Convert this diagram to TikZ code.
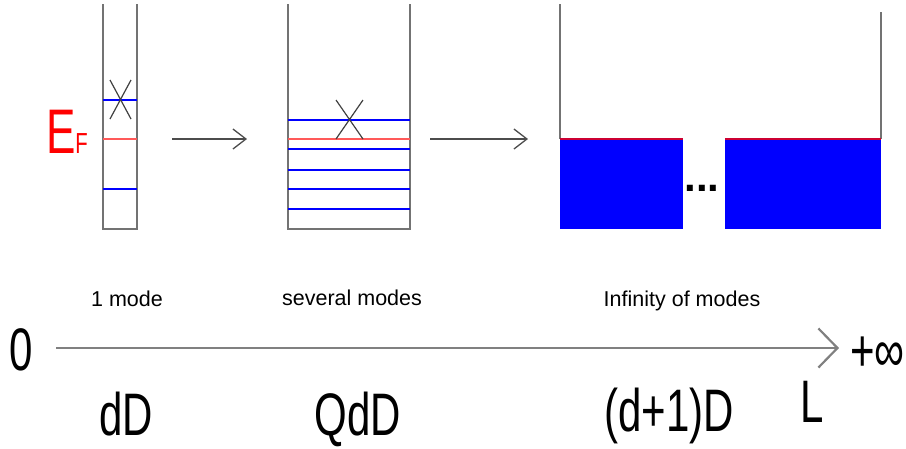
\documentclass[tikz,border=0pt]{standalone}
\usepackage{fontspec}
\setmainfont{Liberation Sans}
\newfontfamily\narrowfont[FakeStretch=0.7]{Liberation Sans}
\usetikzlibrary{positioning,arrows.meta}

\begin{document}
\begin{tikzpicture}[
    x=1pt, y=-1pt,
    every node/.style={inner sep=0pt, outer sep=0pt},
    wall/.style={draw=black!55, line width=1.6pt},
    level/.style={draw=blue, line width=1.5pt},
    fermi/.style={draw=red!65, line width=1.5pt},
    cross/.style={draw=black!75, line width=1.2pt},
    sea/.style={fill=blue},
    arrow/.style={-{Straight Barb[length=13pt, width=20pt]}, draw=black!70, line width=1.3pt},
    axis/.style={-{Straight Barb[length=19pt, width=39pt]}, draw=black!50, line width=2.2pt},
    biglabel/.style={font=\narrowfont\fontsize{60}{60}\selectfont, anchor=base},
    modelabel/.style={font=\fontsize{21.5}{22}\selectfont, anchor=base},
]
\useasboundingbox (0,0) rectangle (906,448);

% Fermi level label
\node[anchor=base west, text=red, font=\narrowfont\fontsize{63}{63}\selectfont] (ef) at (46,153)
    {E{\fontsize{29}{29}\selectfont F}};

% Box 1: one mode
\draw[wall] (103,4) -- (103,229) -- (137,229) -- (137,4);
\draw[level] (103,100) -- (137,100);
\draw[level] (103,189) -- (137,189);
\draw[fermi] (103,139) -- (137,139);
\draw[cross] (110,80) -- (131,119) (131,80) -- (110,119);

% Box 2: several modes
\draw[wall] (288,4) -- (288,229) -- (410,229) -- (410,4);
\foreach \y in {120,149,170,189,209}
    \draw[level] (288,\y) -- (410,\y);
\draw[fermi] (288,139) -- (410,139);
\draw[cross] (336,100) -- (363,139) (363,100) -- (336,139);

% Box 3: infinity of modes
\draw[wall] (560,4) -- (560,139);
\draw[wall] (881,12) -- (881,139);
\fill[sea] (560,139) rectangle (683,229);
\fill[sea] (725,139) rectangle (881,229);
\draw[fermi, draw=red!80!blue] (560,139) -- (683,139);
\draw[fermi, draw=red!80!blue] (725,139) -- (881,139);
\node[font=\fontsize{42}{42}\selectfont\bfseries, anchor=base] (dots) at (702,191) {...};

% Arrows between boxes
\coordinate (a1s) at (172,139);
\coordinate (a1e) at (247,139);
\coordinate (a2s) at (430,139);
\coordinate (a2e) at (528,139);
\draw[arrow] (a1s) -- (a1e);
\draw[arrow] (a2s) -- (a2e);

% Mode labels
\node[modelabel] (one) at (127,306) {1 mode};
\node[modelabel] (several) at (352,305) {several modes};
\node[modelabel] (infinity) at (682,306) {Infinity of modes};

% Length axis
\node[biglabel] (zero) at (21,370) {0};
\node[biglabel, anchor=base west] (inf) at (850,371) {+∞};
\coordinate (axs) at (56,348);
\coordinate (axe) at (839,348);
\draw[axis] (axs) -- (axe);

% Dimensions
\node[biglabel] (dd) at (126,435) {dD};
\node[biglabel] (qdd) at (358,435) {QdD};
\node[biglabel] (d1d) at (669,431) {(d+1)D};
\node[biglabel] (len) at (812,422) {L};

\end{tikzpicture}
\end{document}
